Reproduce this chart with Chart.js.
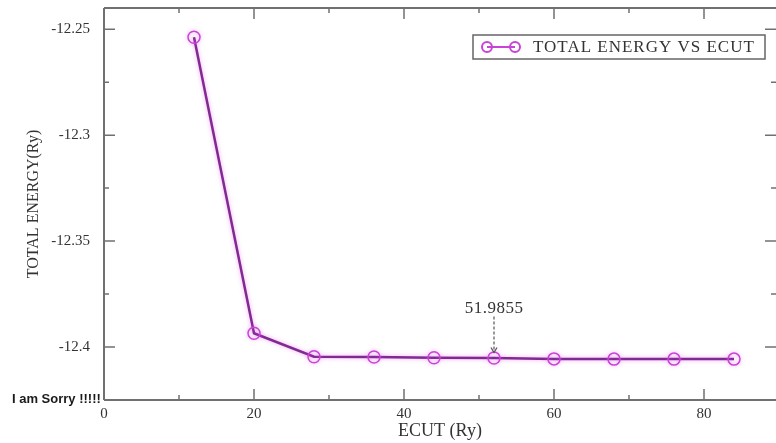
<!DOCTYPE html>
<html>
<head>
<meta charset="utf-8">
<script src="https://cdn.jsdelivr.net/npm/chart.js@4.4.1/dist/chart.umd.min.js"></script>
<style>
  html, body { margin: 0; padding: 0; background: #fff; overflow: hidden; }
  #mycanvas { display: block; }
</style>
</head>
<body>
<canvas id="mycanvas" width="776" height="443"></canvas>
<script>
// values
var ecut = [12, 20, 28, 36, 44, 52, 60, 68, 76, 84];
var totalEnergy = [-12.2538, -12.3935, -12.4046, -12.4047, -12.4051, -12.4052, -12.4056, -12.4057, -12.4057, -12.4057];
var seriesLabel = 'TOTAL ENERGY VS ECUT';

var xTicks = [0, 20, 40, 60, 80];
var xMinorTicks = [10, 30, 50, 70];
var yTicks = [-12.4, -12.35, -12.3, -12.25];
var yMinorTicks = [-12.375, -12.325, -12.275];

// the little arrow note
var noteX = 52;
var noteText = '51.9855';
var noteTextY = -12.3818;
var noteArrowFrom = -12.3856;
var noteArrowTo = -12.4026;

var serif = '"Liberation Serif", "Times New Roman", serif';
var frameColor = '#707070';
var purple = '#802a92';
var magenta = '#c843d6';

var points = [];
for (var i in ecut) {
	points.push({ x: ecut[i], y: totalEnergy[i] });
}

// frame, inward ticks, legend box, note, corner text
var xmgrDecor = {
	id: 'xmgrDecor',
	beforeDatasetsDraw: function(chart) {
		var ctx = chart.ctx;
		ctx.save();
		ctx.shadowColor = 'rgba(225, 90, 235, 0.55)';
		ctx.shadowBlur = 4;
	},
	afterDatasetsDraw: function(chart) {
		chart.ctx.restore();
	},
	afterDraw: function(chart) {
		var ctx = chart.ctx;
		var a = chart.chartArea;
		var xs = chart.scales.x, ys = chart.scales.y;
		var big = 11, small = 5;

		ctx.save();
		ctx.strokeStyle = frameColor;
		ctx.lineWidth = 2;
		ctx.beginPath();
		ctx.moveTo(a.left, a.top); ctx.lineTo(a.right, a.top);
		ctx.moveTo(a.left, a.top); ctx.lineTo(a.left, a.bottom);
		ctx.moveTo(a.left, a.bottom); ctx.lineTo(a.right, a.bottom);
		ctx.stroke();

		ctx.lineWidth = 1.5;
		ctx.beginPath();
		xTicks.concat(xMinorTicks).forEach(function(v) {
			var len = xTicks.indexOf(v) >= 0 ? big : small;
			var px = xs.getPixelForValue(v);
			ctx.moveTo(px, a.bottom); ctx.lineTo(px, a.bottom - len);
			ctx.moveTo(px, a.top); ctx.lineTo(px, a.top + len);
		});
		yTicks.concat(yMinorTicks).forEach(function(v) {
			var len = yTicks.indexOf(v) >= 0 ? big : small;
			var py = ys.getPixelForValue(v);
			ctx.moveTo(a.left, py); ctx.lineTo(a.left + len, py);
			ctx.moveTo(a.right, py); ctx.lineTo(a.right - len, py);
		});
		ctx.stroke();

		// legend box
		var bx = a.right - 303, by = a.top + 27, bw = 292, bh = 24;
		ctx.fillStyle = '#fff';
		ctx.fillRect(bx, by, bw, bh);
		ctx.strokeStyle = '#666';
		ctx.lineWidth = 1.5;
		ctx.strokeRect(bx, by, bw, bh);
		var cy = by + bh / 2;
		ctx.strokeStyle = magenta;
		ctx.lineWidth = 2;
		ctx.beginPath();
		ctx.moveTo(bx + 14, cy); ctx.lineTo(bx + 42, cy);
		ctx.stroke();
		[bx + 14, bx + 42].forEach(function(cx) {
			ctx.beginPath();
			ctx.arc(cx, cy, 5, 0, Math.PI * 2);
			ctx.stroke();
		});
		ctx.fillStyle = '#333';
		ctx.font = '17px ' + serif;
		ctx.letterSpacing = '1px';
		ctx.textAlign = 'left';
		ctx.textBaseline = 'middle';
		ctx.fillText(seriesLabel, bx + 60, cy + 1);

		// note with dashed arrow
		var nx = xs.getPixelForValue(noteX);
		ctx.font = '17px ' + serif;
		ctx.letterSpacing = '0.5px';
		ctx.textAlign = 'center';
		ctx.fillText(noteText, nx, ys.getPixelForValue(noteTextY));
		ctx.letterSpacing = '0px';
		var y1 = ys.getPixelForValue(noteArrowFrom), y2 = ys.getPixelForValue(noteArrowTo);
		ctx.strokeStyle = '#555';
		ctx.lineWidth = 1.2;
		ctx.setLineDash([3, 2]);
		ctx.beginPath();
		ctx.moveTo(nx, y1); ctx.lineTo(nx, y2);
		ctx.stroke();
		ctx.setLineDash([]);
		ctx.beginPath();
		ctx.moveTo(nx - 3, y2 - 5); ctx.lineTo(nx, y2); ctx.lineTo(nx + 3, y2 - 5);
		ctx.stroke();

		// corner text
		ctx.fillStyle = '#1a1a1a';
		ctx.font = 'bold 13px "Liberation Sans Narrow", "Liberation Sans", Arial, sans-serif';
		ctx.textAlign = 'left';
		ctx.textBaseline = 'middle';
		ctx.fillText('I am Sorry !!!!!', 12, a.bottom - 1);
		ctx.restore();
	}
};

var chartdata = {
	datasets: [
		{
			label: seriesLabel,
			data: points,
			borderColor: purple,
			borderWidth: 2.5,
			pointRadius: 6,
			pointBorderWidth: 1.5,
			pointBorderColor: magenta,
			pointBackgroundColor: 'rgba(0,0,0,0)',
			tension: 0
		}
	]
};

var ctx = document.getElementById('mycanvas');

var lineGraph = new Chart(ctx, {
	type: 'line',
	data: chartdata,
	plugins: [xmgrDecor],
	options: {
		responsive: false,
		animation: false,
		layout: { autoPadding: false, padding: { left: 0, right: 0, top: 8, bottom: 0 } },
		plugins: {
			legend: { display: false },
			tooltip: { enabled: false }
		},
		scales: {
			x: {
				type: 'linear',
				min: 0,
				max: 89.6,
				afterBuildTicks: function(s) { s.ticks = xTicks.map(function(v) { return { value: v }; }); },
				afterFit: function(s) { s.height = 43; s.paddingLeft = 0; s.paddingRight = 0; },
				grid: { drawOnChartArea: false, drawTicks: false },
				border: { display: false },
				ticks: { color: '#333', font: { family: serif, size: 15 }, padding: 5, maxRotation: 0 },
				title: { display: true, text: 'ECUT (Ry)', color: '#333', font: { family: serif, size: 18 }, padding: { top: 0, bottom: 1 } }
			},
			y: {
				type: 'linear',
				min: -12.425,
				max: -12.24,
				afterBuildTicks: function(s) { s.ticks = yTicks.map(function(v) { return { value: v }; }); },
				afterFit: function(s) { s.width = 104; s.paddingTop = 0; s.paddingBottom = 0; },
				grid: { drawOnChartArea: false, drawTicks: false },
				border: { display: false },
				ticks: {
					color: '#333', font: { family: serif, size: 15 }, padding: 14,
					callback: function(v) { return String(v); }
				},
				title: { display: true, text: 'TOTAL ENERGY(Ry)', color: '#333', font: { family: serif, size: 16 }, padding: { top: 24, bottom: 0 } }
			}
		}
	}
});
</script>
</body>
</html>
